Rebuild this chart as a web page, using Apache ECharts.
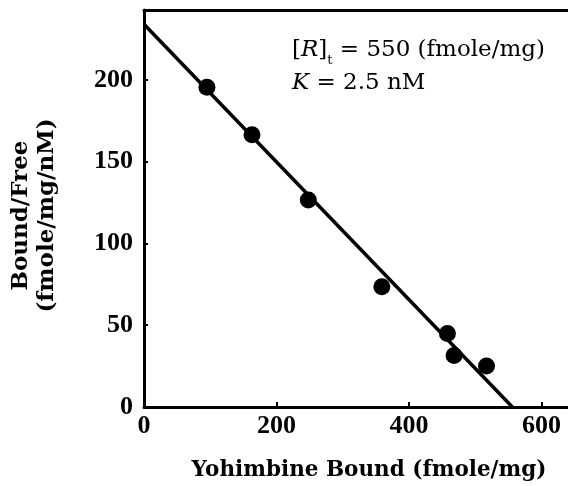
<!DOCTYPE html>
<html><head><meta charset="utf-8">
<script src="https://cdn.jsdelivr.net/npm/echarts@6/dist/echarts.min.js"></script>
<style>html,body{margin:0;padding:0;background:#fff}#c{width:568px;height:486px}</style>
</head><body><div id="c"></div>
<script>
// Scatchard plot data
const boundX = [95, 163, 248, 359, 458, 468, 517];
const ratioY = [195.5, 166.5, 126.5, 73.5, 45, 31.5, 25];
const fitX = [0, 556];
const fitY = [234, 0];
const xTicks = [0, 200, 400, 600];
const yTicks = [0, 50, 100, 150, 200];
const xName = 'Yohimbine Bound (fmole/mg)';
const yName = 'Bound/Free\n(fmole/mg/nM)';
const noteLine1 = '[{i|R}]{sub|t} = 550 (fmole/mg)';
const noteLine2 = '{i|K} = 2.5 nM';

const chart = echarts.init(document.getElementById('c'), null, {renderer: 'canvas'});
const tickFont = {fontFamily: 'Liberation Serif', fontWeight: 'bold', fontSize: 26, color: '#000'};
const nameFont = {fontFamily: 'DejaVu Serif', fontWeight: 'bold', color: '#000'};
const axisLineStyle = {color: '#000', width: 3};

chart.setOption({
  animation: false,
  backgroundColor: '#fff',
  grid: {left: 134.5, right: 0, top: 10, bottom: 78},
  title: {
    left: 287, top: 29,
    text: noteLine1 + '\n' + noteLine2,
    textStyle: {
      fontFamily: 'DejaVu Serif', fontWeight: 'normal', fontSize: 23, color: '#000', lineHeight: 33,
      rich: {
        i: {fontFamily: 'DejaVu Serif', fontStyle: 'italic', fontSize: 23, color: '#000', lineHeight: 33},
        sub: {fontFamily: 'DejaVu Serif', fontSize: 13, color: '#000', verticalAlign: 'bottom', lineHeight: 33}
      }
    }
  },
  xAxis: [{
    type: 'value', min: 0, max: 640, interval: 200,
    axisLine: {show: true, onZero: false, lineStyle: axisLineStyle},
    axisTick: {show: true, inside: true, length: 5, customValues: xTicks, lineStyle: {color: '#000', width: 2}},
    splitLine: {show: false},
    axisLabel: Object.assign({margin: 6, customValues: xTicks, formatter: v => xTicks.includes(v) ? String(v) : ''}, tickFont),
    name: xName, nameLocation: 'middle', nameGap: 52,
    nameTextStyle: Object.assign({fontSize: 21.5, padding: [0, 0, 0, 26]}, nameFont)
  }, {
    type: 'value', position: 'top', min: 0, max: 640,
    axisLine: {show: true, onZero: false, lineStyle: axisLineStyle},
    axisTick: {show: false}, axisLabel: {show: false}, splitLine: {show: false}
  }],
  yAxis: {
    type: 'value', min: 0, max: 242.7, interval: 50,
    axisLine: {show: true, onZero: false, lineStyle: axisLineStyle},
    axisTick: {show: true, inside: true, length: 4, customValues: yTicks, lineStyle: {color: '#000', width: 2}},
    splitLine: {show: false},
    axisLabel: Object.assign({margin: 11, customValues: yTicks, formatter: v => yTicks.includes(v) ? String(v) : ''}, tickFont),
    name: yName, nameLocation: 'middle', nameGap: 84, nameRotate: 90,
    nameTextStyle: Object.assign({fontSize: 23, lineHeight: 26, align: 'center', padding: [0, 14, 0, 0]}, nameFont)
  },
  series: [{
    type: 'line',
    data: fitX.map((x, i) => [x, fitY[i]]),
    showSymbol: false, symbol: 'none',
    lineStyle: {color: '#000', width: 3.5},
    z: 2
  }, {
    type: 'scatter',
    data: boundX.map((x, i) => [x, ratioY[i]]),
    symbol: 'circle', symbolSize: 17,
    itemStyle: {color: '#000', opacity: 1},
    z: 3
  }]
});
</script>
</body></html>
